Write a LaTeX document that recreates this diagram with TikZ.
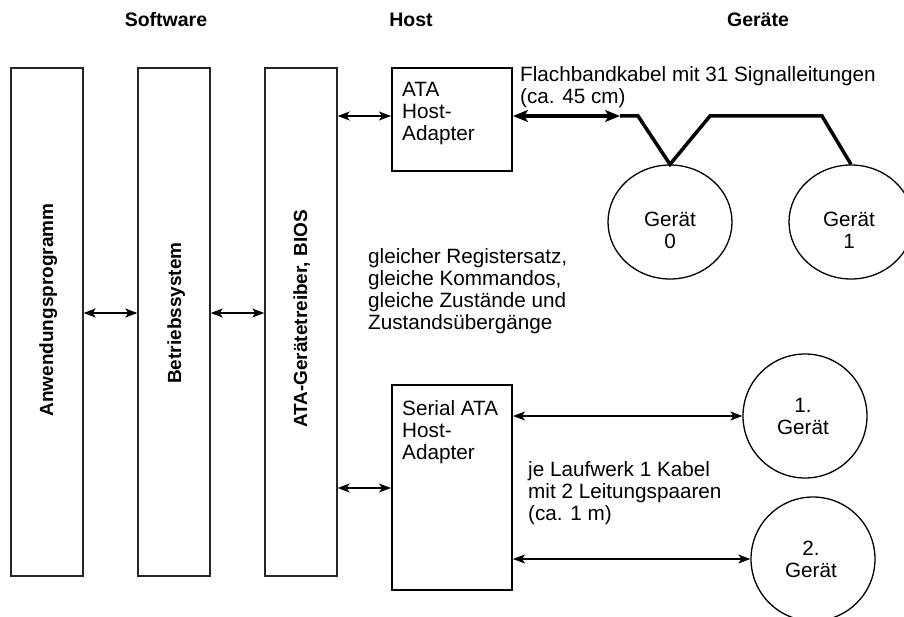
\documentclass[tikz,border=0pt]{standalone}
\usepackage{fontspec}
\setmainfont{Liberation Sans}
\usetikzlibrary{arrows.meta,shapes.geometric}
\begin{document}
\begin{tikzpicture}[x=1bp,y=-1bp,
  txt/.style={font=\fontsize{20.7bp}{22bp}\selectfont, inner sep=0pt, align=left, anchor=north west},
  head/.style={font=\fontsize{19.5bp}{22bp}\selectfont\bfseries, inner sep=0pt},
  vlabel/.style={font=\fontsize{19bp}{22bp}\selectfont\bfseries, inner sep=0pt, rotate=90, anchor=base},
  layer/.style={draw=black!85, line width=1.4bp, minimum width=72bp, minimum height=508bp, inner sep=0pt},
  adapter/.style={draw, line width=2bp, minimum width=120bp, inner sep=0pt},
  dev/.style={draw, line width=1.3bp, circle, minimum size=124bp, inner sep=0pt},
  devoval/.style={draw, line width=1.3bp, ellipse, minimum width=124bp, minimum height=114bp, inner sep=0pt},
  devtext/.style={font=\fontsize{20.7bp}{22bp}\selectfont, align=center, inner sep=0pt},
  link/.style={line width=1.2bp, {Stealth[length=12bp,width=9bp,inset=3bp]}-{Stealth[length=12bp,width=9bp,inset=3bp]}},
  cable/.style={line width=3.5bp, line join=miter},
  cablearrow/.style={cable, {Stealth[length=15bp,width=12bp,inset=4bp]}-{Stealth[length=15bp,width=12bp,inset=4bp]}}
]
\useasboundingbox (0,0) rectangle (904,617);

% column headings
\node[head] (hsw) at (166,20) {Software};
\node[head] (hhost) at (411,20) {Host};
\node[head] (hdev) at (758,20) {Geräte};

% software layers
\node[layer] (app) at (47,322) {};
\node[layer] (os)  at (174,322) {};
\node[layer] (drv) at (301,322) {};
\node[vlabel] (lapp) at (53,310) {Anwendungsprogramm};
\node[vlabel] (los)  at (181,313) {Betriebssystem};
\node[vlabel] (ldrv) at (307,319) {ATA-Gerätetreiber, BIOS};

% row heights of the horizontal links
\coordinate (rowA) at (0,116);
\coordinate (rowM) at (0,313);
\coordinate (rowS) at (0,488);

\draw[link] (app.east |- rowM) -- (os.west |- rowM);
\draw[link] (os.east |- rowM) -- (drv.west |- rowM);

% parallel ATA host adapter
\node[adapter, minimum height=103bp] (ata) at (452,119.5) {};
\node[txt] (tata) at (402,82) {ATA\\Host-\\Adapter};
\draw[link] (drv.east |- rowA) -- (ata.west |- rowA);

% serial ATA host adapter
\node[adapter, minimum height=205bp] (sata) at (452,487.5) {};
\node[txt] (tsata) at (402,400) {Serial ATA\\Host-\\Adapter};
\draw[link] (drv.east |- rowS) -- (sata.west |- rowS);

% ribbon cable with two devices
\node[devoval] (g0) at (670,222) {};
\node[devtext] (tg0) at (670,230) {Gerät\\0};
\node[devoval] (g1) at (851,222) {};
\node[devtext] (tg1) at (849,230) {Gerät\\1};

\coordinate (c1) at (620,116);
\coordinate (c2) at (638,116);
\coordinate (c3) at (710,116);
\coordinate (c4) at (822,116);
\draw[cablearrow] (ata.east |- rowA) -- (c1);
\draw[cable] (c1) -- (c2) -- (g0.north) -- (c3) -- (c4) -- (g1.north);

\node[txt] (tflach) at (520,66) {Flachbandkabel mit 31 Signalleitungen\\(ca. 45 cm)};

\node[txt] (tregs) at (368,248) {gleicher Registersatz,\\gleiche Kommandos,\\gleiche Zustände und\\Zustandsübergänge};

% point-to-point serial links
\node[dev] (d1) at (805,416) {};
\node[devtext] (td1) at (803,416) {1.\\Gerät};
\node[dev] (d2) at (813,559) {};
\node[devtext] (td2) at (811,559) {2.\\Gerät};

\draw[link] (sata.east |- d1.west) -- (d1.west);
\draw[link] (sata.east |- d2.west) -- (d2.west);

\node[txt] (tkabel) at (528,461.5) {je Laufwerk 1 Kabel\\mit 2 Leitungspaaren\\(ca. 1 m)};
\end{tikzpicture}
\end{document}
